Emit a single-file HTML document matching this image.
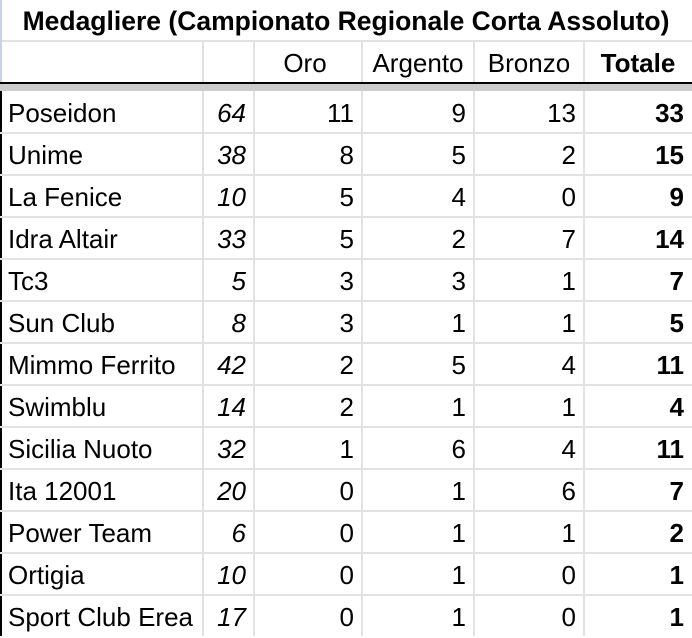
<!DOCTYPE html>
<html><head><style>
body{margin:0;width:692px;height:636px;overflow:hidden;background:#fff;font-family:"Liberation Sans",Arial,sans-serif;color:#000;position:relative}
.h{position:absolute;background:#e2e2e2}
.t{position:absolute;font-size:26px;line-height:42px;white-space:nowrap}
</style></head><body>
<div class="t" style="left:0;width:692px;top:0px;text-align:center;font-weight:bold;font-size:26.5px">Medagliere (Campionato Regionale Corta Assoluto)</div>
<div class="h" style="left:0;top:40px;width:692px;height:2px"></div>
<div style="position:absolute;left:0;top:0;width:2px;height:82px;background:#c9d5e6"></div>
<div style="position:absolute;left:0;top:82px;width:692px;height:2px;background:#000"></div>
<div style="position:absolute;left:0;top:84px;width:692px;height:7px;background:#cccccc"></div>
<div style="position:absolute;left:0;top:91px;width:2px;height:545px;background:#000"></div>
<div id="g"></div>
<script>
var cols=[0,203,254,362,474,584,692];
var g='';
for(var i=1;i<6;i++){g+='<div class="h" style="left:'+(cols[i]-1)+'px;top:42px;width:2px;height:40px"></div>';g+='<div class="h" style="left:'+(cols[i]-1)+'px;top:91px;width:2px;height:545px"></div>';}
g+='<div class="t" style="left:254px;width:102px;top:42px;text-align:center">Oro</div>';
g+='<div class="t" style="left:362px;width:112px;top:42px;text-align:center">Argento</div>';
g+='<div class="t" style="left:474px;width:110px;top:42px;text-align:center">Bronzo</div>';
g+='<div class="t" style="left:584px;width:108px;top:42px;text-align:center;font-weight:bold">Totale</div>';
var d=[["Poseidon",64,11,9,13,33],["Unime",38,8,5,2,15],["La Fenice",10,5,4,0,9],["Idra Altair",33,5,2,7,14],["Tc3",5,3,3,1,7],["Sun Club",8,3,1,1,5],["Mimmo Ferrito",42,2,5,4,11],["Swimblu",14,2,1,1,4],["Sicilia Nuoto",32,1,6,4,11],["Ita 12001",20,0,1,6,7],["Power Team",6,0,1,1,2],["Ortigia",10,0,1,0,1],["Sport Club Erea",17,0,1,0,1]];
for(var r=0;r<d.length;r++){var y=91+r*42;
 if(r<d.length-1)g+='<div class="h" style="left:0;top:'+(y+41)+'px;width:692px;height:2px"></div>';
 g+='<div class="t" style="left:8px;top:'+(y+1)+'px">'+d[r][0]+'</div>';
 for(var c=1;c<6;c++){var st='right:'+(692-cols[c+1]+8)+'px;top:'+(y+1)+'px;';
  if(c==1)st+='font-style:italic;';if(c==5)st+='font-weight:bold;';
  g+='<div class="t" style="'+st+'">'+d[r][c]+'</div>';}
}
document.getElementById('g').innerHTML=g;
</script>
</body></html>
